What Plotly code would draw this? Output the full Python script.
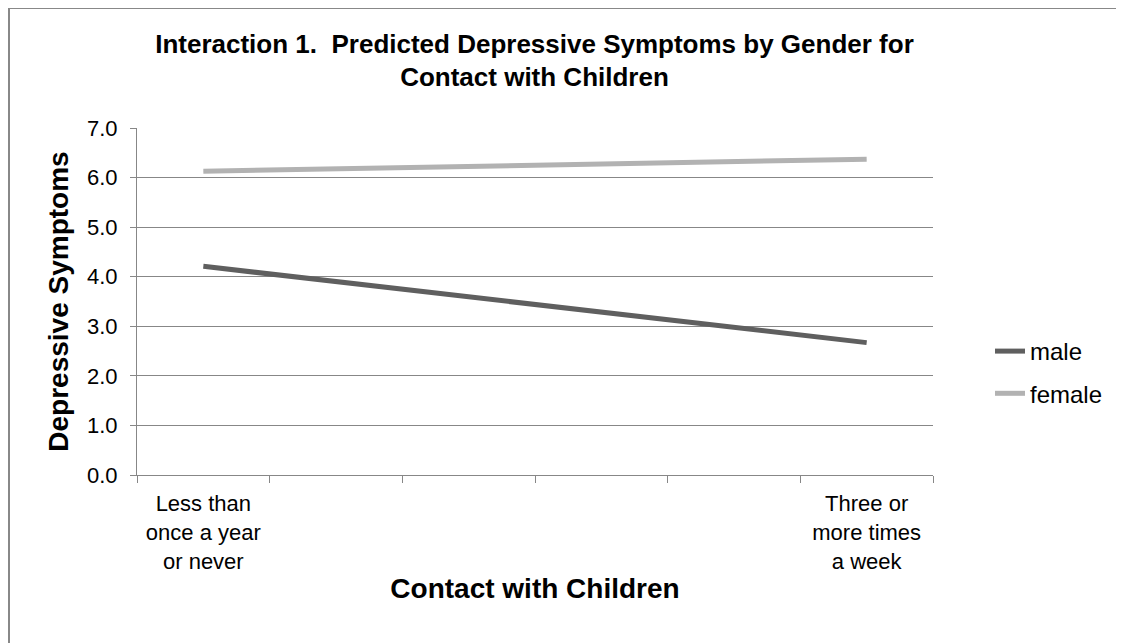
import plotly.graph_objects as go

categories = [
    "Less than<br>once a year<br>or never",
    " ",
    "  ",
    "   ",
    "    ",
    "Three or<br>more times<br>a week",
]
x_points = [categories[0], categories[-1]]
male = [4.21, 2.67]
female = [6.13, 6.37]
y_ticks = [0, 1, 2, 3, 4, 5, 6, 7]

FONT = "Liberation Sans, Arial, sans-serif"
GRID = "#878787"

OFF = 8  # page body margin
W, H = 1124 - OFF, 643 - OFF
# plot area in page coordinates: x 137..933, y 128..475
L, T = 137 - OFF, 128 - OFF
R = W - (933 - OFF)
B = H - (475 - OFF)
pw, ph = W - L - R, H - T - B

fig = go.Figure()
fig.add_trace(go.Scatter(x=x_points, y=male, name="male", mode="lines",
                         line=dict(color="#5f5f5f", width=5), legendgroup="m"))
fig.add_trace(go.Scatter(x=x_points, y=female, name="female", mode="lines",
                         line=dict(color="#b2b2b2", width=5), legendgroup="f"))

fig.update_layout(
    width=W, height=H,
    margin=dict(l=L, r=R, t=T, b=B, autoexpand=False),
    paper_bgcolor="white", plot_bgcolor="white",
    font=dict(family=FONT, color="black"),
    title=dict(
        text="<b>Interaction 1.  Predicted Depressive Symptoms by Gender for<br>Contact with Children</b>",
        font=dict(size=26, family=FONT, color="black"),
        x=(534.5 - OFF) / W, xanchor="center", xref="container",
        y=1 - (52.5 - OFF) / H, yanchor="middle", yref="container",
    ),
    legend=dict(
        x=(990 - 137) / pw, xanchor="left",
        y=(475 - 372.5) / ph, yanchor="middle",
        font=dict(size=24, family=FONT, color="black"),
        tracegroupgap=8, bgcolor="rgba(0,0,0,0)",
    ),
    showlegend=True,
)

fig.update_xaxes(
    type="category", categoryorder="array", categoryarray=categories,
    range=[-0.5, len(categories) - 0.5],
    tickson="boundaries", ticks="outside", ticklen=7, tickcolor=GRID, tickwidth=1,
    showline=True, linecolor=GRID, linewidth=1, showgrid=False, zeroline=False,
    tickfont=dict(size=22, family=FONT, color="black"),
    ticklabelstandoff=9,
    title=dict(text="<b>Contact with Children</b>", font=dict(size=28, family=FONT, color="black"),
               standoff=5),
    fixedrange=True,
)
fig.update_yaxes(
    range=[0, 7], tickvals=y_ticks, ticktext=[f"{v:.1f}" for v in y_ticks],
    ticks="outside", ticklen=6, tickcolor=GRID, tickwidth=1,
    showline=True, linecolor=GRID, linewidth=1,
    showgrid=True, gridcolor=GRID, gridwidth=1, zeroline=False,
    tickfont=dict(size=22, family=FONT, color="black"),
    ticklabelstandoff=8,
    title=dict(text="<b>Depressive Symptoms</b>", font=dict(size=28, family=FONT, color="black"),
               standoff=10),
    fixedrange=True,
)

fig.add_shape(type="rect", xref="paper", yref="paper",
              x0=(1 - L) / pw, x1=(W + 20 - L) / pw,
              y0=-(B + 20) / ph, y1=(ph + T - 0) / ph,
              line=dict(color="#888888", width=2), fillcolor="rgba(0,0,0,0)", layer="below")

fig.write_html("out.html")
